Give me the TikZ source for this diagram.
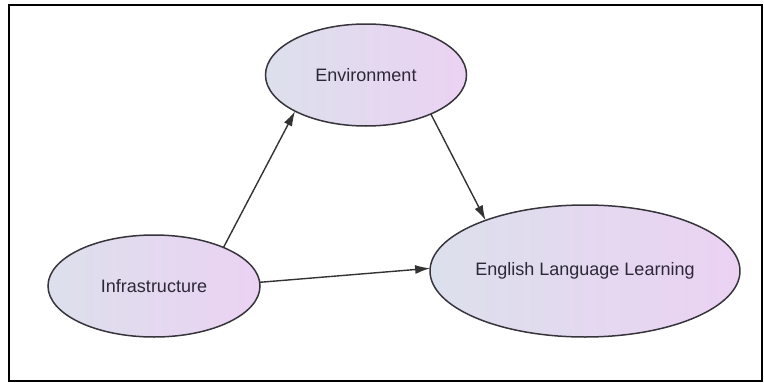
\documentclass[tikz,border=0pt]{standalone}
\usepackage{fontspec}
\setmainfont{Liberation Sans}
\usetikzlibrary{shapes.geometric, arrows.meta}
\definecolor{leftfill}{RGB}{220,224,236}
\definecolor{rightfill}{RGB}{235,210,243}
\definecolor{edgegray}{RGB}{55,52,60}
\definecolor{textgray}{RGB}{45,40,56}
\tikzstyle{concept} = [ellipse, draw=edgegray, line width=1.5pt, left color=leftfill, right color=rightfill, inner sep=0pt, outer sep=0pt, text=textgray, font=\fontsize{18}{21}\selectfont]
\tikzstyle{arrow} = [line width=1.4pt, draw=black!80, -{Latex[length=15pt,width=9pt]}]

\begin{document}
\begin{tikzpicture}[x=1pt,y=-1pt]
	\useasboundingbox (0,0) rectangle (764,383);
	\draw[line width=2.5pt] (9,5) rectangle (762,381);
	\node[concept, minimum width=201pt, minimum height=102pt] (env) at (366,75) {Environment};
	\node[concept, minimum width=212pt, minimum height=102pt] (infra) at (154,286) {Infrastructure};
	\node[concept, minimum width=284pt, minimum height=132pt] (ell) at (585,271) {English Language Learning};
	\draw[arrow] (infra.29) -- (env.207);
	\draw[arrow] (env.-31) -- (ell.153);
	\draw[arrow] (infra.2) -- (ell.179);
\end{tikzpicture}
\end{document}
